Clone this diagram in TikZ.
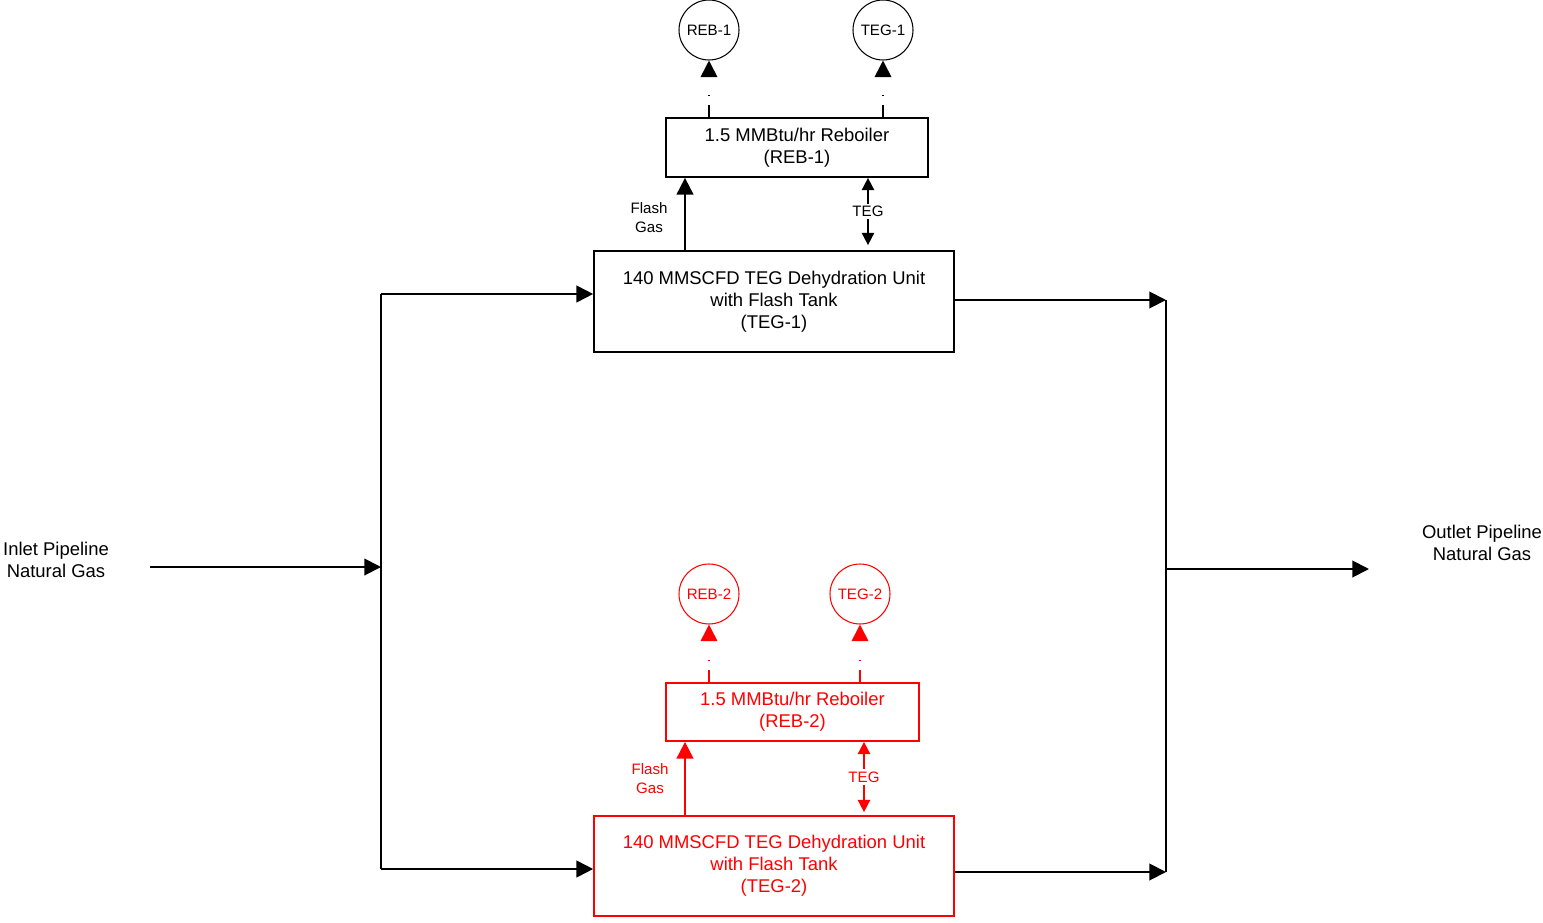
\documentclass[tikz,border=0pt]{standalone}
\usepackage{fontspec}
\setmainfont{Liberation Sans}
\usetikzlibrary{arrows.meta,positioning,calc}
\definecolor{unitred}{HTML}{FF0000}

\begin{document}
\begin{tikzpicture}[x=0.02cm,y=-0.02cm,
  unit/.style={draw,line width=1pt,align=center,inner sep=0pt,
    font=\fontsize{10.5}{12.5}\selectfont},
  stack/.style={draw,circle,line width=0.6pt,minimum size=1.2cm,
    inner sep=0pt,font=\fontsize{8.6}{10}\selectfont},
  tag/.style={align=center,font=\fontsize{8.6}{10.8}\selectfont},
  stream/.style={align=center,font=\fontsize{10.5}{12.5}\selectfont},
  pipe/.style={line width=1.1pt,-{Triangle[length=9.5pt,width=9.5pt]}},
  vent/.style={line width=1pt,dash pattern=on 7pt off 5pt on 0.6pt off 20pt,
    -{Triangle[length=9.5pt,width=9.5pt]}},
  glycol/.style={line width=1pt,
    {Triangle[length=7pt,width=7pt]}-{Triangle[length=7pt,width=7pt]}}
]
  \useasboundingbox (0,0) rectangle (1543,923);

  % train 1
  \node[unit,minimum width=7.2cm,minimum height=2.02cm] (teg1) at (774,301.5)
    {140 MMSCFD TEG Dehydration Unit\\with Flash Tank\\(TEG-1)};
  \node[unit,minimum width=5.24cm,minimum height=1.18cm] (reb1) at (797,147.5)
    {1.5 MMBtu/hr Reboiler\\(REB-1)};
  \node[stack] (rebv1) at (709,30) {REB-1};
  \node[stack] (tegv1) at (883,30) {TEG-1};
  \draw[vent] (rebv1.south |- reb1.north) -- (rebv1.south);
  \draw[vent] (tegv1.south |- reb1.north) -- (tegv1.south);
  \coordinate (fg1) at ($(teg1.north)+(-89,0)$);
  \draw[pipe] (fg1) -- (fg1 |- reb1.south);
  \node[tag] (fgl1) at (649,218) {Flash\\Gas};
  \coordinate (gl1) at ($(teg1.north)+(94,-5)$);
  \draw[glycol] (gl1) -- (gl1 |- reb1.south)
    node[tag,midway,fill=white,inner sep=1.5pt] (gt1) {TEG};

  % train 2
  \begin{scope}[unitred]
    \node[unit,minimum width=7.2cm,minimum height=2cm] (teg2) at (774,866)
      {140 MMSCFD TEG Dehydration Unit\\with Flash Tank\\(TEG-2)};
    \node[unit,minimum width=5.06cm,minimum height=1.16cm] (reb2) at (792.5,712)
      {1.5 MMBtu/hr Reboiler\\(REB-2)};
    \node[stack] (rebv2) at (709,594) {REB-2};
    \node[stack] (tegv2) at (860,594) {TEG-2};
    \draw[vent] (rebv2.south |- reb2.north) -- (rebv2.south);
    \draw[vent] (tegv2.south |- reb2.north) -- (tegv2.south);
    \coordinate (fg2) at ($(teg2.north)+(-89,0)$);
    \draw[pipe] (fg2) -- (fg2 |- reb2.south);
    \node[tag] (fgl2) at (650,779) {Flash\\Gas};
    \coordinate (gl2) at ($(teg2.north)+(90,-3)$);
    \draw[glycol] (gl2) -- (gl2 |- reb2.south)
      node[tag,midway,fill=white,inner sep=1.5pt] (gt2) {TEG};
  \end{scope}

  % inlet header
  \node[stream] (inlet) at (56,560) {Inlet Pipeline\\Natural Gas};
  \coordinate (feed) at (150,567);
  \coordinate (btop) at (381,294);
  \coordinate (bin) at (381,567);
  \coordinate (bbot) at (381,869);
  \draw[line width=1.1pt] (btop) -- (bbot);
  \draw[pipe] (feed) -- (bin);
  \draw[pipe] (btop) -- (teg1.west |- btop);
  \draw[pipe] (bbot) -- (teg2.west |- bbot);

  % outlet header
  \node[stream] (outlet) at (1482,543) {Outlet Pipeline\\Natural Gas};
  \coordinate (mtop) at (1166,300);
  \coordinate (mout) at (1166,569);
  \coordinate (mbot) at (1166,872);
  \coordinate (sales) at (1369,569);
  \draw[line width=1.1pt] (mtop) -- (mbot);
  \draw[pipe] (teg1.east |- mtop) -- (mtop);
  \draw[pipe] (teg2.east |- mbot) -- (mbot);
  \draw[pipe] (mout) -- (sales);
\end{tikzpicture}
\end{document}
